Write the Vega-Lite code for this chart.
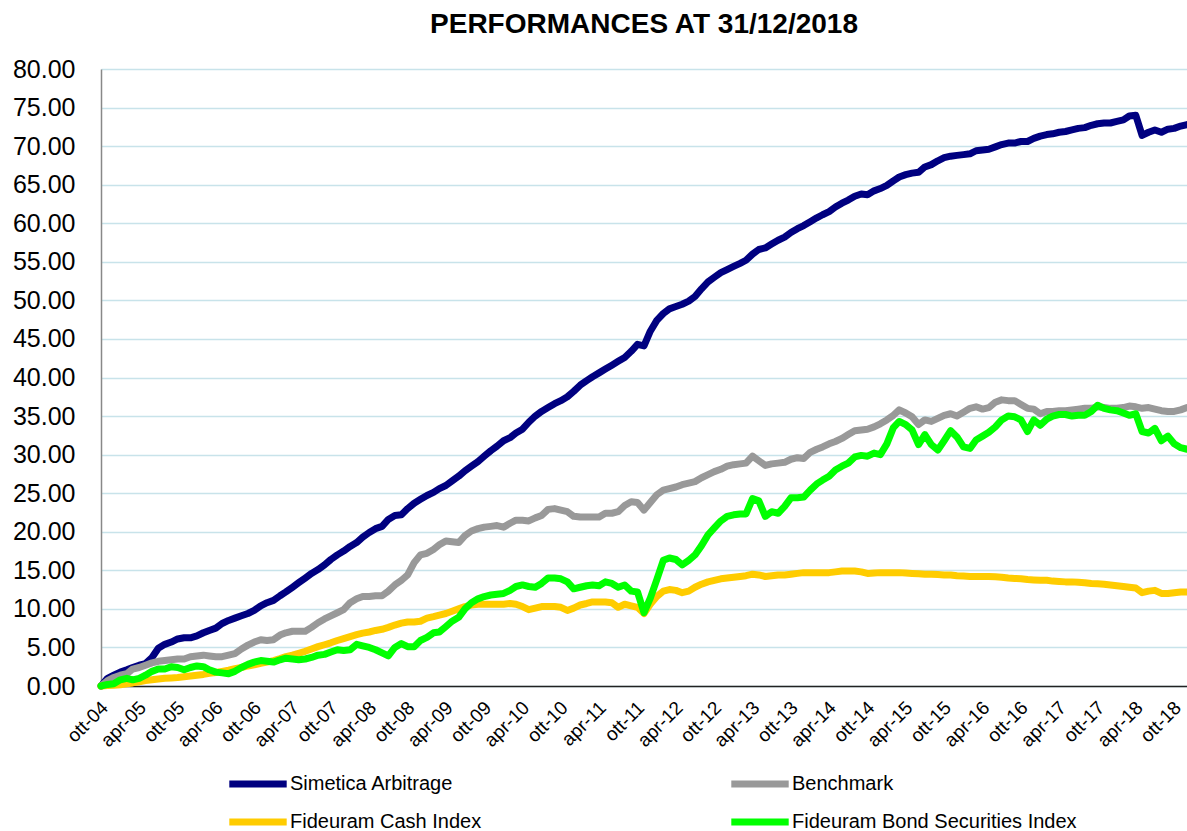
{
"$schema": "https://vega.github.io/schema/vega-lite/v6.json",
"width": 1086, "height": 617,
"autosize": {"type": "none"},
"padding": {"left": 101, "top": 69, "right": 0, "bottom": 145},
"background": "white",
"config": {"font": "Liberation Sans", "view": {"stroke": null}},
"title": {"text": "PERFORMANCES AT 31/12/2018", "font": "Liberation Sans", "fontSize": 28, "fontWeight": "bold", "color": "black", "anchor": "middle", "offset": 18},
"data": {"values": [
{"d":"2004-10","a":0,"b":0,"c":0,"f":0},
{"d":"2004-11","a":1.0,"b":0.7,"c":0.05,"f":0.2},
{"d":"2004-12","a":1.4,"b":1.1,"c":0.1,"f":0.3},
{"d":"2005-01","a":1.8,"b":1.4,"c":0.15,"f":0.8},
{"d":"2005-02","a":2.1,"b":1.6,"c":0.3,"f":1.0},
{"d":"2005-03","a":2.4,"b":2.2,"c":0.4,"f":0.8},
{"d":"2005-04","a":2.7,"b":2.4,"c":0.55,"f":1.0},
{"d":"2005-05","a":2.9,"b":2.7,"c":0.7,"f":1.4},
{"d":"2005-06","a":3.7,"b":3.0,"c":0.8,"f":1.9},
{"d":"2005-07","a":4.9,"b":3.2,"c":0.9,"f":2.2},
{"d":"2005-08","a":5.4,"b":3.3,"c":1.0,"f":2.2},
{"d":"2005-09","a":5.7,"b":3.4,"c":1.05,"f":2.5},
{"d":"2005-10","a":6.1,"b":3.5,"c":1.1,"f":2.4},
{"d":"2005-11","a":6.25,"b":3.5,"c":1.2,"f":2.1},
{"d":"2005-12","a":6.25,"b":3.8,"c":1.3,"f":2.4},
{"d":"2006-01","a":6.5,"b":3.9,"c":1.4,"f":2.6},
{"d":"2006-02","a":6.9,"b":4.0,"c":1.5,"f":2.5},
{"d":"2006-03","a":7.2,"b":3.9,"c":1.65,"f":2.1},
{"d":"2006-04","a":7.5,"b":3.8,"c":1.75,"f":1.8},
{"d":"2006-05","a":8.1,"b":3.8,"c":1.9,"f":1.7},
{"d":"2006-06","a":8.5,"b":4.0,"c":2.05,"f":1.6},
{"d":"2006-07","a":8.8,"b":4.2,"c":2.25,"f":1.9},
{"d":"2006-08","a":9.1,"b":4.8,"c":2.4,"f":2.4},
{"d":"2006-09","a":9.4,"b":5.3,"c":2.6,"f":2.8},
{"d":"2006-10","a":9.8,"b":5.7,"c":2.75,"f":3.1},
{"d":"2006-11","a":10.4,"b":6.0,"c":2.95,"f":3.3},
{"d":"2006-12","a":10.8,"b":5.9,"c":3.1,"f":3.2},
{"d":"2007-01","a":11.1,"b":6.0,"c":3.3,"f":3.1},
{"d":"2007-02","a":11.7,"b":6.6,"c":3.55,"f":3.4},
{"d":"2007-03","a":12.2,"b":6.9,"c":3.8,"f":3.6},
{"d":"2007-04","a":12.8,"b":7.1,"c":4.0,"f":3.5},
{"d":"2007-05","a":13.4,"b":7.1,"c":4.25,"f":3.4},
{"d":"2007-06","a":14.0,"b":7.1,"c":4.5,"f":3.5},
{"d":"2007-07","a":14.6,"b":7.6,"c":4.8,"f":3.7},
{"d":"2007-08","a":15.1,"b":8.2,"c":5.1,"f":4.0},
{"d":"2007-09","a":15.7,"b":8.7,"c":5.35,"f":4.1},
{"d":"2007-10","a":16.4,"b":9.1,"c":5.6,"f":4.4},
{"d":"2007-11","a":17.0,"b":9.5,"c":5.9,"f":4.7},
{"d":"2007-12","a":17.5,"b":9.9,"c":6.15,"f":4.6},
{"d":"2008-01","a":18.1,"b":10.8,"c":6.4,"f":4.7},
{"d":"2008-02","a":18.6,"b":11.3,"c":6.65,"f":5.4},
{"d":"2008-03","a":19.3,"b":11.6,"c":6.85,"f":5.2},
{"d":"2008-04","a":19.9,"b":11.6,"c":7.0,"f":5.0},
{"d":"2008-05","a":20.4,"b":11.7,"c":7.2,"f":4.7},
{"d":"2008-06","a":20.7,"b":11.7,"c":7.35,"f":4.3},
{"d":"2008-07","a":21.6,"b":12.3,"c":7.6,"f":3.9},
{"d":"2008-08","a":22.1,"b":13.1,"c":7.9,"f":5.0},
{"d":"2008-09","a":22.2,"b":13.7,"c":8.15,"f":5.5},
{"d":"2008-10","a":23.0,"b":14.4,"c":8.3,"f":5.1},
{"d":"2008-11","a":23.7,"b":16.0,"c":8.3,"f":5.1},
{"d":"2008-12","a":24.2,"b":17.0,"c":8.4,"f":5.9},
{"d":"2009-01","a":24.7,"b":17.2,"c":8.8,"f":6.3},
{"d":"2009-02","a":25.1,"b":17.7,"c":9.0,"f":6.9},
{"d":"2009-03","a":25.6,"b":18.3,"c":9.2,"f":7.0},
{"d":"2009-04","a":26.0,"b":18.8,"c":9.4,"f":7.7},
{"d":"2009-05","a":26.6,"b":18.7,"c":9.7,"f":8.4},
{"d":"2009-06","a":27.2,"b":18.6,"c":10.0,"f":8.9},
{"d":"2009-07","a":27.9,"b":19.5,"c":10.3,"f":10.0},
{"d":"2009-08","a":28.5,"b":20.1,"c":10.5,"f":10.8},
{"d":"2009-09","a":29.1,"b":20.4,"c":10.6,"f":11.3},
{"d":"2009-10","a":29.8,"b":20.6,"c":10.6,"f":11.6},
{"d":"2009-11","a":30.5,"b":20.7,"c":10.6,"f":11.8},
{"d":"2009-12","a":31.1,"b":20.8,"c":10.6,"f":11.9},
{"d":"2010-01","a":31.8,"b":20.6,"c":10.6,"f":12.0},
{"d":"2010-02","a":32.2,"b":21.1,"c":10.7,"f":12.4},
{"d":"2010-03","a":32.8,"b":21.5,"c":10.6,"f":12.9},
{"d":"2010-04","a":33.3,"b":21.5,"c":10.3,"f":13.1},
{"d":"2010-05","a":34.2,"b":21.4,"c":9.9,"f":12.9},
{"d":"2010-06","a":35.0,"b":21.8,"c":10.1,"f":12.8},
{"d":"2010-07","a":35.6,"b":22.1,"c":10.3,"f":13.3},
{"d":"2010-08","a":36.1,"b":22.9,"c":10.3,"f":14.0},
{"d":"2010-09","a":36.6,"b":23.0,"c":10.3,"f":14.0},
{"d":"2010-10","a":37.0,"b":22.8,"c":10.2,"f":13.9},
{"d":"2010-11","a":37.5,"b":22.6,"c":9.8,"f":13.5},
{"d":"2010-12","a":38.2,"b":22.0,"c":10.1,"f":12.6},
{"d":"2011-01","a":39.0,"b":21.9,"c":10.5,"f":12.8},
{"d":"2011-02","a":39.6,"b":21.9,"c":10.7,"f":13.0},
{"d":"2011-03","a":40.1,"b":21.9,"c":10.9,"f":13.1},
{"d":"2011-04","a":40.6,"b":21.9,"c":10.9,"f":13.0},
{"d":"2011-05","a":41.1,"b":22.4,"c":10.9,"f":13.5},
{"d":"2011-06","a":41.6,"b":22.4,"c":10.8,"f":13.3},
{"d":"2011-07","a":42.1,"b":22.6,"c":10.2,"f":12.8},
{"d":"2011-08","a":42.6,"b":23.4,"c":10.6,"f":13.1},
{"d":"2011-09","a":43.4,"b":23.9,"c":10.4,"f":12.3},
{"d":"2011-10","a":44.3,"b":23.8,"c":10.2,"f":12.2},
{"d":"2011-11","a":44.1,"b":22.8,"c":9.4,"f":9.5},
{"d":"2011-12","a":46.0,"b":23.8,"c":10.6,"f":11.4},
{"d":"2012-01","a":47.4,"b":24.8,"c":11.6,"f":13.8},
{"d":"2012-02","a":48.3,"b":25.4,"c":12.3,"f":16.3},
{"d":"2012-03","a":48.9,"b":25.6,"c":12.5,"f":16.6},
{"d":"2012-04","a":49.2,"b":25.8,"c":12.4,"f":16.4},
{"d":"2012-05","a":49.5,"b":26.1,"c":12.1,"f":15.7},
{"d":"2012-06","a":49.9,"b":26.3,"c":12.3,"f":16.3},
{"d":"2012-07","a":50.5,"b":26.5,"c":12.8,"f":17.0},
{"d":"2012-08","a":51.5,"b":27.0,"c":13.2,"f":18.2},
{"d":"2012-09","a":52.4,"b":27.4,"c":13.5,"f":19.6},
{"d":"2012-10","a":53.0,"b":27.8,"c":13.7,"f":20.5},
{"d":"2012-11","a":53.6,"b":28.1,"c":13.9,"f":21.4},
{"d":"2012-12","a":54.0,"b":28.5,"c":14.0,"f":22.0},
{"d":"2013-01","a":54.4,"b":28.7,"c":14.1,"f":22.2},
{"d":"2013-02","a":54.8,"b":28.8,"c":14.2,"f":22.3},
{"d":"2013-03","a":55.2,"b":28.9,"c":14.3,"f":22.3},
{"d":"2013-04","a":56.0,"b":29.8,"c":14.5,"f":24.3},
{"d":"2013-05","a":56.6,"b":29.2,"c":14.4,"f":24.0},
{"d":"2013-06","a":56.8,"b":28.6,"c":14.2,"f":22.0},
{"d":"2013-07","a":57.3,"b":28.8,"c":14.3,"f":22.6},
{"d":"2013-08","a":57.8,"b":28.9,"c":14.4,"f":22.4},
{"d":"2013-09","a":58.2,"b":29.0,"c":14.4,"f":23.3},
{"d":"2013-10","a":58.8,"b":29.4,"c":14.5,"f":24.4},
{"d":"2013-11","a":59.3,"b":29.6,"c":14.6,"f":24.4},
{"d":"2013-12","a":59.7,"b":29.5,"c":14.7,"f":24.5},
{"d":"2014-01","a":60.2,"b":30.3,"c":14.7,"f":25.4},
{"d":"2014-02","a":60.7,"b":30.7,"c":14.7,"f":26.2},
{"d":"2014-03","a":61.1,"b":31.0,"c":14.7,"f":26.7},
{"d":"2014-04","a":61.5,"b":31.4,"c":14.7,"f":27.2},
{"d":"2014-05","a":62.1,"b":31.7,"c":14.8,"f":28.0},
{"d":"2014-06","a":62.6,"b":32.1,"c":14.9,"f":28.5},
{"d":"2014-07","a":63.0,"b":32.6,"c":14.9,"f":28.9},
{"d":"2014-08","a":63.5,"b":33.1,"c":14.9,"f":29.7},
{"d":"2014-09","a":63.8,"b":33.2,"c":14.8,"f":29.9},
{"d":"2014-10","a":63.7,"b":33.3,"c":14.6,"f":29.8},
{"d":"2014-11","a":64.2,"b":33.6,"c":14.65,"f":30.2},
{"d":"2014-12","a":64.5,"b":34.0,"c":14.7,"f":30.0},
{"d":"2015-01","a":64.9,"b":34.5,"c":14.7,"f":31.4},
{"d":"2015-02","a":65.5,"b":35.1,"c":14.7,"f":33.5},
{"d":"2015-03","a":66.0,"b":35.8,"c":14.7,"f":34.3},
{"d":"2015-04","a":66.3,"b":35.4,"c":14.65,"f":33.9},
{"d":"2015-05","a":66.5,"b":34.9,"c":14.6,"f":33.2},
{"d":"2015-06","a":66.6,"b":33.9,"c":14.55,"f":31.3},
{"d":"2015-07","a":67.3,"b":34.5,"c":14.5,"f":32.6},
{"d":"2015-08","a":67.6,"b":34.3,"c":14.5,"f":31.3},
{"d":"2015-09","a":68.1,"b":34.7,"c":14.45,"f":30.6},
{"d":"2015-10","a":68.5,"b":35.1,"c":14.4,"f":31.8},
{"d":"2015-11","a":68.7,"b":35.3,"c":14.4,"f":33.1},
{"d":"2015-12","a":68.8,"b":35.0,"c":14.3,"f":32.3},
{"d":"2016-01","a":68.9,"b":35.5,"c":14.25,"f":31.0},
{"d":"2016-02","a":69.0,"b":36.0,"c":14.2,"f":30.8},
{"d":"2016-03","a":69.4,"b":36.2,"c":14.2,"f":31.9},
{"d":"2016-04","a":69.5,"b":35.9,"c":14.2,"f":32.4},
{"d":"2016-05","a":69.6,"b":36.1,"c":14.2,"f":32.9},
{"d":"2016-06","a":69.9,"b":36.8,"c":14.15,"f":33.6},
{"d":"2016-07","a":70.2,"b":37.1,"c":14.1,"f":34.5},
{"d":"2016-08","a":70.4,"b":37.0,"c":14.0,"f":35.0},
{"d":"2016-09","a":70.4,"b":37.0,"c":13.95,"f":34.9},
{"d":"2016-10","a":70.6,"b":36.5,"c":13.9,"f":34.5},
{"d":"2016-11","a":70.6,"b":36.0,"c":13.8,"f":33.0},
{"d":"2016-12","a":71.0,"b":35.9,"c":13.75,"f":34.5},
{"d":"2017-01","a":71.3,"b":35.3,"c":13.7,"f":33.8},
{"d":"2017-02","a":71.5,"b":35.6,"c":13.7,"f":34.6},
{"d":"2017-03","a":71.6,"b":35.6,"c":13.6,"f":35.0},
{"d":"2017-04","a":71.8,"b":35.7,"c":13.55,"f":35.2},
{"d":"2017-05","a":71.9,"b":35.7,"c":13.5,"f":35.2},
{"d":"2017-06","a":72.1,"b":35.8,"c":13.5,"f":35.0},
{"d":"2017-07","a":72.3,"b":35.9,"c":13.45,"f":35.1},
{"d":"2017-08","a":72.4,"b":36.0,"c":13.4,"f":35.1},
{"d":"2017-09","a":72.7,"b":36.0,"c":13.3,"f":35.6},
{"d":"2017-10","a":72.9,"b":36.2,"c":13.25,"f":36.4},
{"d":"2017-11","a":73.0,"b":36.1,"c":13.2,"f":36.0},
{"d":"2017-12","a":73.0,"b":36.0,"c":13.1,"f":35.8},
{"d":"2018-01","a":73.2,"b":36.0,"c":13.0,"f":35.7},
{"d":"2018-02","a":73.4,"b":36.1,"c":12.9,"f":35.4},
{"d":"2018-03","a":73.9,"b":36.3,"c":12.8,"f":35.1},
{"d":"2018-04","a":74.0,"b":36.2,"c":12.7,"f":35.3},
{"d":"2018-05","a":71.4,"b":36.0,"c":12.1,"f":33.0},
{"d":"2018-06","a":71.8,"b":36.1,"c":12.3,"f":32.8},
{"d":"2018-07","a":72.1,"b":35.9,"c":12.4,"f":33.4},
{"d":"2018-08","a":71.8,"b":35.7,"c":12.0,"f":31.8},
{"d":"2018-09","a":72.2,"b":35.6,"c":12.0,"f":32.4},
{"d":"2018-10","a":72.3,"b":35.6,"c":12.1,"f":31.4},
{"d":"2018-11","a":72.6,"b":35.8,"c":12.2,"f":30.9},
{"d":"2018-12","a":72.8,"b":36.1,"c":12.2,"f":30.7}
]},
"transform": [{"fold": ["a", "b", "c", "f"], "as": ["k", "v"]}],
"mark": {"type": "line", "strokeWidth": 7, "strokeJoin": "round", "strokeCap": "round"},
"encoding": {
"x": {"field": "d", "type": "temporal",
 "scale": {"type": "utc", "domain": [{"year": 2004, "month": 10, "date": 1, "utc": true}, {"year": 2018, "month": 12, "date": 1, "utc": true}]},
 "axis": {"title": null, "grid": false, "ticks": false, "domainColor": "#222222", "domainWidth": 1.5,
  "labelAngle": -45, "labelAlign": "right", "labelBaseline": "top", "labelFontSize": 19, "labelColor": "black", "labelPadding": 12, "labelOffset": -3, "labelOverlap": false, "labelBound": false, "labelFlush": false,
  "labelExpr": "(utcmonth(datum.value)==9?'ott':'apr')+'-'+utcFormat(datum.value,'%y')",
  "values": [
   {"year":2004,"month":10,"date":1,"utc":true},{"year":2005,"month":4,"date":1,"utc":true},{"year":2005,"month":10,"date":1,"utc":true},
   {"year":2006,"month":4,"date":1,"utc":true},{"year":2006,"month":10,"date":1,"utc":true},
   {"year":2007,"month":4,"date":1,"utc":true},{"year":2007,"month":10,"date":1,"utc":true},
   {"year":2008,"month":4,"date":1,"utc":true},{"year":2008,"month":10,"date":1,"utc":true},
   {"year":2009,"month":4,"date":1,"utc":true},{"year":2009,"month":10,"date":1,"utc":true},
   {"year":2010,"month":4,"date":1,"utc":true},{"year":2010,"month":10,"date":1,"utc":true},
   {"year":2011,"month":4,"date":1,"utc":true},{"year":2011,"month":10,"date":1,"utc":true},
   {"year":2012,"month":4,"date":1,"utc":true},{"year":2012,"month":10,"date":1,"utc":true},
   {"year":2013,"month":4,"date":1,"utc":true},{"year":2013,"month":10,"date":1,"utc":true},
   {"year":2014,"month":4,"date":1,"utc":true},{"year":2014,"month":10,"date":1,"utc":true},
   {"year":2015,"month":4,"date":1,"utc":true},{"year":2015,"month":10,"date":1,"utc":true},
   {"year":2016,"month":4,"date":1,"utc":true},{"year":2016,"month":10,"date":1,"utc":true},
   {"year":2017,"month":4,"date":1,"utc":true},{"year":2017,"month":10,"date":1,"utc":true},
   {"year":2018,"month":4,"date":1,"utc":true},{"year":2018,"month":10,"date":1,"utc":true}
  ]}},
"y": {"field": "v", "type": "quantitative",
 "scale": {"domain": [0, 80], "nice": false},
 "axis": {"title": null, "values": [0,5,10,15,20,25,30,35,40,45,50,55,60,65,70,75,80], "format": ".2f",
  "labelFontSize": 25, "labelColor": "black", "labelPadding": 26, "ticks": false,
  "domainColor": "#888888", "domainWidth": 1.5, "gridColor": "#c8e3ea", "gridWidth": 1.5}},
"color": {"field": "k", "type": "nominal",
 "scale": {"domain": ["a", "b", "c", "f"], "range": ["#000080", "#999999", "#FFCC00", "#00FF00"]},
 "legend": {"orient": "none", "legendX": 133, "legendY": 691, "columns": 2, "direction": "horizontal", "title": null,
  "symbolType": "M-1.4,0H1.4", "symbolSize": 1681, "symbolStrokeWidth": 7, "symbolFillColor": "transparent", "labelFontSize": 20, "labelColor": "black",
  "labelOffset": 8, "columnPadding": 235, "rowPadding": 0, "padding": 0, "labelLimit": 400, "gridAlign": "each",
  "labelExpr": "datum.label=='a'?'Simetica Arbitrage':datum.label=='b'?'Benchmark':datum.label=='c'?'Fideuram Cash Index':'Fideuram Bond Securities Index'"}}
}
}
